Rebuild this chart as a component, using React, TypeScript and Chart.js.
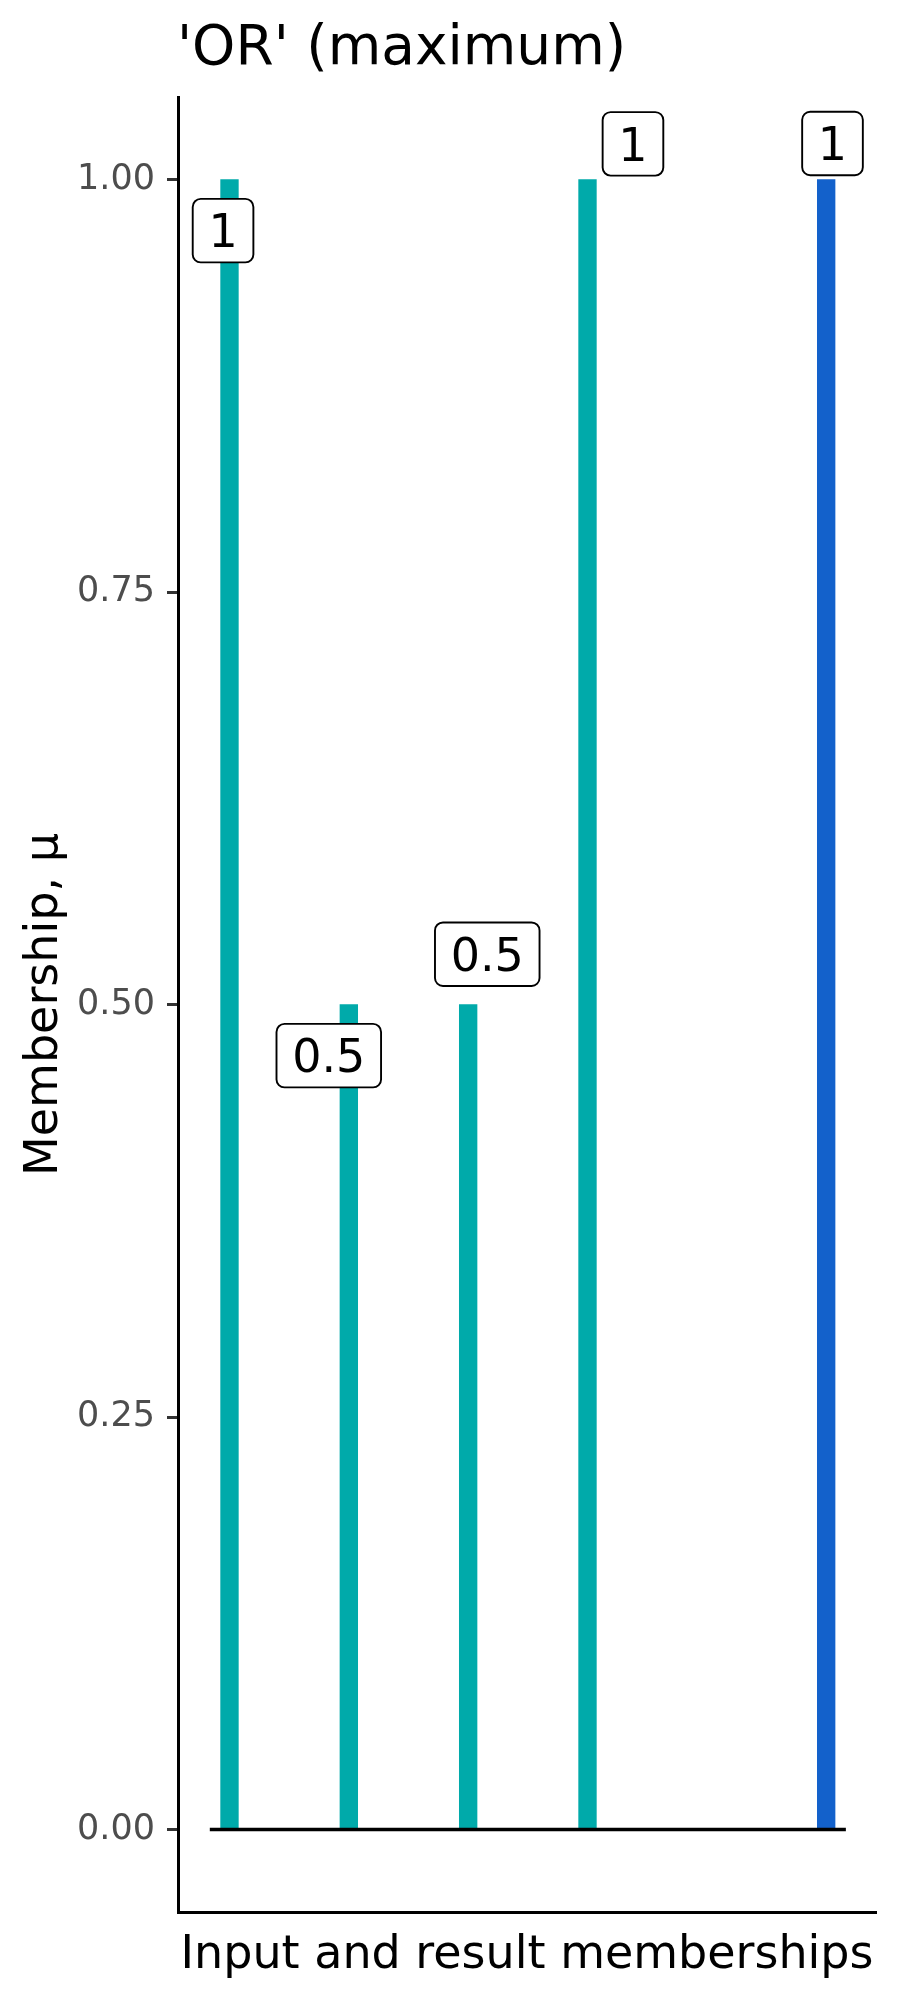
import React, { useEffect, useRef } from "react";
import { Chart, registerables } from "chart.js";

Chart.register(...registerables);

// ---- data ----
const TITLE = "'OR' (maximum)";
const X_TITLE = "Input and result memberships";
const Y_TITLE = "Membership, μ";

const barPositions = [1, 2, 3, 4, 6];
const barValues = [1, 0.5, 0.5, 1, 1];
const barColors = ["#00AAAA", "#00AAAA", "#00AAAA", "#00AAAA", "#1361CB"];

const labelTexts = ["1", "0.5", "0.5", "1", "1"];
const labelX = [0.946, 1.832, 3.16, 4.381, 6.053];
const labelY = [0.969, 0.469, 0.5305, 1.0216, 1.0218];

const baselineX = [0.835, 6.165];
const baselineY = [0, 0];

const yTicks = [0, 0.25, 0.5, 0.75, 1];
const xRange = [0.5685, 6.4175];
const yRange = [-0.05, 1.05];

const FONT = '"DejaVu Sans", "Noto Sans", sans-serif';

const textPlugin = {
  id: "textPlugin",
  afterDatasetsDraw(chart: any) {
    const { ctx } = chart;
    const x = chart.scales.x;
    const y = chart.scales.y;
    ctx.save();
    const fs = 46;
    ctx.font = `${fs}px ${FONT}`;
    labelTexts.forEach((t, i) => {
      const px = x.getPixelForValue(labelX[i]);
      const py = y.getPixelForValue(labelY[i]);
      const w = ctx.measureText(t).width + 31.4;
      const h = 63.5;
      ctx.beginPath();
      ctx.roundRect(px - w / 2, py - h / 2, w, h, 8);
      ctx.fillStyle = "#ffffff";
      ctx.fill();
      ctx.lineWidth = 1.9;
      ctx.strokeStyle = "#000000";
      ctx.stroke();
      ctx.fillStyle = "#000000";
      ctx.textAlign = "center";
      ctx.textBaseline = "alphabetic";
      ctx.fillText(t, px, py + 0.3645 * fs);
    });
    ctx.restore();
  },
  afterDraw(chart: any) {
    const { ctx, chartArea } = chart;
    ctx.save();
    ctx.fillStyle = "#000000";
    // title
    ctx.font = `55px ${FONT}`;
    ctx.textAlign = "left";
    ctx.textBaseline = "alphabetic";
    ctx.fillText(TITLE, chartArea.left - 1, 63.5);
    // x title
    ctx.font = `46px ${FONT}`;
    ctx.textAlign = "center";
    ctx.fillText(X_TITLE, (chartArea.left + chartArea.right) / 2, 1968);
    // y title
    ctx.translate(57, (chartArea.top + chartArea.bottom) / 2);
    ctx.rotate(-Math.PI / 2);
    ctx.fillText(Y_TITLE, 0, 0);
    ctx.restore();
  },
};

export default function App() {
  const ref = useRef<HTMLCanvasElement | null>(null);
  useEffect(() => {
    if (!ref.current) return;
    const chart = new Chart(ref.current, {
      type: "bar",
      data: {
        datasets: [
          {
            type: "line",
            data: baselineX.map((v, i) => ({ x: v, y: baselineY[i] })),
            borderColor: "#000000",
            borderWidth: 3.4,
            pointRadius: 0,
            borderCapStyle: "butt",
            order: 0,
          } as any,
          {
            type: "bar",
            data: barPositions.map((v, i) => ({ x: v, y: barValues[i] })),
            backgroundColor: barColors,
            borderWidth: 0,
            barThickness: 17.7,
            order: 1,
          } as any,
        ],
      },
      options: {
        animation: false,
        responsive: false,
        devicePixelRatio: 1,
        layout: { padding: { top: 97, right: 24, left: 0, bottom: 0 } },
        plugins: {
          legend: { display: false },
          tooltip: { enabled: false },
          title: { display: false },
        },
        scales: {
          x: {
            type: "linear",
            min: xRange[0],
            max: xRange[1],
            offset: false,
            grid: { display: true, drawOnChartArea: false, drawTicks: false, offset: false },
            border: { display: true, color: "#000000", width: 3 },
            ticks: { display: false },
            afterFit: (s: any) => {
              s.height = 88;
            },
          },
          y: {
            type: "linear",
            min: yRange[0],
            max: yRange[1],
            grid: {
              display: true,
              drawOnChartArea: false,
              drawTicks: true,
              tickLength: 11,
              tickColor: "#333333",
              tickWidth: 3,
            },
            border: { display: true, color: "#000000", width: 3 },
            ticks: {
              color: "#4D4D4D",
              font: { family: FONT, size: 35 },
              padding: 12,
              callback: (v: any) => Number(v).toFixed(2),
            },
            afterBuildTicks: (s: any) => {
              s.ticks = yTicks.map((v) => ({ value: v }));
            },
            afterFit: (s: any) => {
              s.width = 178;
            },
          },
        },
      } as any,
      plugins: [textPlugin],
    });
    return () => chart.destroy();
  }, []);
  return (
    <div style={{ position: "absolute", left: 0, top: 0, width: 900, height: 2000 }}>
      <canvas ref={ref} width={900} height={2000} style={{ display: "block" }} />
    </div>
  );
}
